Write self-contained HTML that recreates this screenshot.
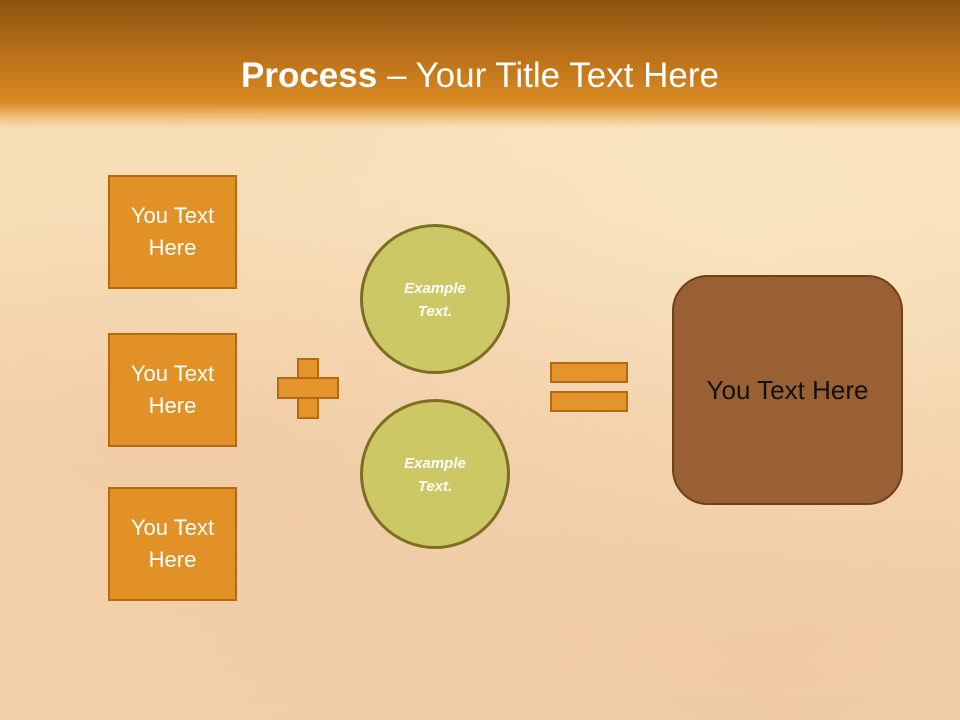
<!DOCTYPE html>
<html><head><meta charset="utf-8"><style>
body{margin:0;width:960px;height:720px;overflow:hidden;position:relative;font-family:"Liberation Sans",sans-serif;
background:linear-gradient(180deg,#f6dcb2 0%,#f8e2bb 30%,#f4d6ae 60%,#f2d2aa 100%);}
.bgtint{position:absolute;inset:0;background:radial-gradient(ellipse at 20% 60%,rgba(235,185,150,.3),transparent 60%),radial-gradient(ellipse at 75% 30%,rgba(250,235,200,.5),transparent 60%),radial-gradient(ellipse at 80% 85%,rgba(230,180,150,.3),transparent 60%);}
.hdr{position:absolute;left:0;top:0;width:960px;height:128px;background:linear-gradient(180deg,#8a5512 0%,#b86e18 40%,#d88a22 80%,rgba(230,160,70,.6) 90%,rgba(246,220,178,0) 100%);}
.title{position:absolute;top:56px;width:960px;text-align:center;color:#fff;font-size:35px;}
.box{position:absolute;left:108px;background:#e29126;border:2px solid #b56a12;color:#fff;font-size:22px;text-align:center;line-height:32px;box-sizing:border-box;padding-top:23px;width:129px;height:114px;}
.c{position:absolute;width:150px;height:150px;border-radius:50%;background:#ccc866;border:3px solid #7d6e22;box-sizing:border-box;color:#fff;font-style:italic;font-weight:bold;font-size:15px;text-align:center;line-height:23px;padding-top:50px;}
.r{position:absolute;background:#e3942a;border:2px solid #b56a12;box-sizing:border-box;}
</style></head><body>
<div class="bgtint"></div>
<div class="hdr"></div>
<div class="title"><b>Process</b> – Your Title Text Here</div>
<div class="box" style="top:175px">You Text<br>Here</div>
<div class="box" style="top:333px">You Text<br>Here</div>
<div class="box" style="top:487px">You Text<br>Here</div>
<div class="r" style="left:297px;top:358px;width:22px;height:61px"></div>
<div class="r" style="left:277px;top:377px;width:62px;height:22px"></div>
<div class="r" style="left:299px;top:379px;width:18px;height:18px;border:none"></div>
<div class="c" style="left:360px;top:224px">Example<br>Text.</div>
<div class="c" style="left:360px;top:399px">Example<br>Text.</div>
<div class="r" style="left:550px;top:362px;width:78px;height:21px"></div>
<div class="r" style="left:550px;top:391px;width:78px;height:21px"></div>
<div style="position:absolute;left:672px;top:275px;width:231px;height:230px;border-radius:36px;background:#996133;border:2px solid #6e4215;box-sizing:border-box;color:#111;font-size:26px;text-align:center;line-height:226px;">You Text Here</div>
</body></html>
